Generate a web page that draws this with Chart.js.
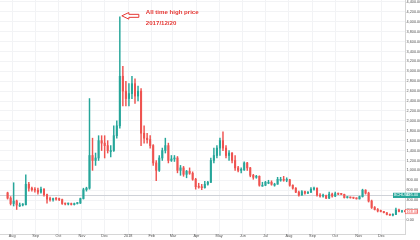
<!DOCTYPE html>
<html>
<head>
<meta charset="utf-8">
<script src="https://cdn.jsdelivr.net/npm/chart.js@4/dist/chart.umd.min.js"></script>
<style>
html, body { margin: 0; padding: 0; background: #fff; }
#wrap { width: 420px; height: 240px; }
</style>
</head>
<body>
<div id="wrap"><canvas id="myChart"></canvas></div>
<script>
// BCH/USD, 4-day candles; day 0 = 2017-08-01
const firstCandleDay = -8;
const candleDays = 4;

const opens = [545, 440, 330, 380, 300, 300, 305, 720, 640, 610, 600, 560, 620, 510, 420, 410, 430, 420, 410, 330,
  320, 330, 310, 330, 340, 430, 610, 640, 1300, 1200, 1250, 1600, 1550, 1500, 1400, 1400, 1700, 1900, 2900, 2600,
  2450, 2550, 2750, 2500, 2600, 1750, 1650, 1620, 1500, 1150, 1000, 1250, 1400, 1500, 1200, 1230, 1250, 1000, 1050, 920,
  980, 940, 820, 670, 660, 650, 720, 760, 1200, 1300, 1450, 1600, 1450, 1300, 1350, 1200, 1050, 1000, 1010, 1150,
  1050, 900, 860, 880, 700, 700, 760, 760, 720, 720, 820, 820, 800, 810, 700, 640, 560, 500, 570, 540,
  560, 620, 640, 500, 480, 490, 440, 520, 480, 530, 520, 515, 450, 455, 445, 440, 425, 470, 600, 540,
  380, 250, 210, 180, 170, 145, 110, 95, 110, 200, 170, 172];
const highs = [560, 470, 750, 400, 340, 330, 910, 760, 660, 650, 640, 660, 630, 520, 460, 440, 450, 440, 420, 340,
  340, 340, 340, 350, 440, 640, 660, 2450, 1650, 1350, 1700, 1700, 1700, 1600, 1500, 1900, 2000, 4100, 3100, 2800,
  2750, 2900, 2850, 2700, 2650, 1900, 1750, 1700, 1520, 1200, 1300, 1450, 1650, 1550, 1300, 1300, 1280, 1100, 1080, 1000,
  1050, 970, 840, 740, 720, 780, 780, 1250, 1450, 1500, 1650, 1780, 1500, 1400, 1360, 1300, 1080, 1050, 1170, 1160,
  1060, 920, 900, 890, 760, 780, 800, 790, 740, 860, 860, 880, 850, 820, 710, 650, 580, 590, 580, 570,
  650, 660, 645, 530, 520, 500, 560, 540, 560, 540, 535, 520, 470, 460, 450, 445, 480, 620, 610, 560,
  400, 270, 230, 200, 175, 150, 115, 120, 240, 220, 180, 178];
const lows = [420, 300, 280, 210, 270, 280, 300, 580, 580, 560, 520, 540, 480, 340, 380, 380, 400, 390, 310, 300,
  300, 300, 300, 320, 330, 420, 580, 620, 1000, 1100, 1200, 1400, 1250, 1350, 1270, 1380, 1650, 1850, 2300, 2300,
  2300, 2450, 2350, 2400, 1500, 1550, 1550, 1450, 1100, 790, 980, 1200, 1350, 1150, 1180, 1180, 950, 900, 880, 850,
  920, 800, 620, 640, 610, 640, 700, 750, 1150, 1250, 1300, 1400, 1250, 1200, 1150, 1000, 970, 950, 1000, 1000,
  870, 820, 840, 680, 680, 690, 730, 700, 680, 720, 780, 780, 770, 680, 620, 550, 480, 500, 520, 530,
  550, 600, 480, 460, 460, 430, 430, 460, 470, 510, 510, 440, 440, 440, 430, 420, 420, 460, 520, 360,
  230, 200, 160, 160, 140, 100, 90, 78, 105, 160, 150, 160];
const closes = [440, 330, 380, 300, 300, 305, 720, 640, 610, 600, 560, 620, 510, 420, 410, 430, 420, 410, 330, 320,
  330, 310, 330, 340, 430, 610, 640, 1300, 1200, 1250, 1600, 1550, 1500, 1400, 1400, 1700, 1900, 2900, 2600, 2450,
  2550, 2750, 2500, 2600, 1750, 1650, 1620, 1500, 1150, 1000, 1250, 1400, 1500, 1200, 1230, 1250, 1000, 1050, 920, 980,
  940, 820, 670, 660, 650, 720, 760, 1200, 1300, 1450, 1600, 1450, 1300, 1350, 1200, 1050, 1000, 1010, 1150, 1050,
  900, 860, 880, 700, 700, 760, 760, 720, 720, 820, 820, 800, 810, 700, 640, 560, 500, 570, 540, 560,
  620, 640, 500, 480, 490, 440, 520, 480, 530, 520, 515, 450, 455, 445, 440, 425, 470, 600, 540, 380,
  250, 210, 180, 170, 145, 110, 95, 110, 200, 170, 172, 168];

const monthDays = [0, 31, 61, 92, 122, 153, 184, 212, 243, 273, 304, 334, 365, 396, 426, 457, 487];
const monthLabels = ['Aug', 'Sep', 'Oct', 'Nov', 'Dec', '2018', 'Feb', 'Mar', 'Apr', 'May', 'Jun', 'Jul', 'Aug', 'Sep', 'Oct', 'Nov', 'Dec'];
const priceTicks = [0, 200, 400, 600, 800, 1000, 1200, 1400, 1600, 1800, 2000, 2200, 2400, 2600, 2800, 3000,
  3200, 3400, 3600, 3800, 4000, 4200, 4400];

const refLevel = 495;
const athLines = ['All time high price', '2017/12/20'];

const upColor = '#26a69a';
const downColor = '#ef5350';

function fmt(v) {
    return v.toLocaleString('en-US', {minimumFractionDigits: 2, maximumFractionDigits: 2});
}

const dayOf = i => firstCandleDay + i * candleDays + 2;
const colors = closes.map((c, i) => c >= opens[i] ? upColor : downColor);

// no extra room for tick labels, keep the plot at the canvas edges
function noPadding(s) {
    s.paddingLeft = 0;
    s.paddingRight = 0;
    s.paddingTop = 0;
    s.paddingBottom = 0;
}

const overlay = {
    id: 'overlay',
    beforeDatasetsDraw(chart) {
        const {ctx, chartArea, scales: {y}} = chart;
        const ry = Math.round(y.getPixelForValue(refLevel)) + 0.5;
        ctx.save();
        ctx.strokeStyle = '#cfd2d8';
        ctx.lineWidth = 1;
        ctx.beginPath();
        ctx.moveTo(chartArea.left, ry);
        ctx.lineTo(chartArea.right, ry);
        ctx.stroke();
        ctx.restore();
    },
    afterDraw(chart) {
        const {ctx, chartArea, scales: {x, y}} = chart;
        ctx.save();
        // all time high arrow + text
        const top = Math.max(...highs);
        const idx = highs.indexOf(top);
        const px = x.getPixelForValue(dayOf(idx)) + 2;
        const py = y.getPixelForValue(top) - 1;
        ctx.strokeStyle = '#e53935';
        ctx.fillStyle = '#fff';
        ctx.lineWidth = 1;
        ctx.beginPath();
        ctx.moveTo(px, py);
        ctx.lineTo(px + 7, py - 3.3);
        ctx.lineTo(px + 7, py - 1.5);
        ctx.lineTo(px + 17, py - 1.5);
        ctx.lineTo(px + 17, py + 1.5);
        ctx.lineTo(px + 7, py + 1.5);
        ctx.lineTo(px + 7, py + 3.3);
        ctx.closePath();
        ctx.fill();
        ctx.stroke();
        ctx.fillStyle = '#e53935';
        ctx.font = 'bold 6.1px "Liberation Sans", Arial, sans-serif';
        ctx.textBaseline = 'middle';
        ctx.fillText(athLines[0], px + 24, py - 4);
        ctx.fillText(athLines[1], px + 24, py + 7);

        // price tags
        ctx.font = '3.8px "Liberation Sans", Arial, sans-serif';
        ctx.textBaseline = 'middle';
        const ry = y.getPixelForValue(refLevel);
        ctx.fillStyle = upColor;
        ctx.fillRect(chartArea.right - 12, ry - 2.6, 27, 5.2);
        ctx.fillStyle = '#fff';
        ctx.fillText('BCHUSD', chartArea.right - 11, ry);
        ctx.fillText(fmt(refLevel), chartArea.right + 1.5, ry);

        const last = closes[closes.length - 1];
        const ly = y.getPixelForValue(last);
        ctx.fillStyle = '#fff';
        ctx.strokeStyle = downColor;
        ctx.lineWidth = 0.6;
        ctx.fillRect(chartArea.right + 0.5, ly - 2.2, 12, 4.4);
        ctx.strokeRect(chartArea.right + 0.5, ly - 2.2, 12, 4.4);
        ctx.fillStyle = downColor;
        ctx.fillText(fmt(last), chartArea.right + 1.5, ly);
        ctx.restore();
    }
};

function chart(idChart) {
    const data = {
        datasets: [
            {
                label: 'wick',
                data: lows.map((l, i) => ({x: dayOf(i), y: [l, highs[i]]})),
                backgroundColor: colors,
                barThickness: 0.8,
                grouped: false,
                minBarLength: 1,
            },
            {
                label: 'body',
                data: opens.map((o, i) => ({x: dayOf(i), y: [o, closes[i]]})),
                backgroundColor: colors,
                barThickness: 1.4,
                grouped: false,
                minBarLength: 1,
            },
        ],
    };

    const options = {
        responsive: true,
        maintainAspectRatio: false,
        animation: false,
        layout: {padding: 0},
        plugins: {
            legend: {display: false},
            tooltip: {enabled: false},
        },
        scales: {
            x: {
                type: 'linear',
                offset: false,
                min: -16,
                max: 518,
                afterBuildTicks: s => { s.ticks = monthDays.map(v => ({value: v})); },
                afterFit: s => { s.height = 6; noPadding(s); },
                ticks: {
                    padding: 0,
                    maxRotation: 0,
                    autoSkip: false,
                    color: '#555',
                    font: {size: 3.8, family: 'Liberation Sans'},
                    callback: v => monthLabels[monthDays.indexOf(v)],
                },
                grid: {color: '#f2f3f5', drawTicks: false, offset: false},
                border: {color: '#d6d6d6'},
            },
            y: {
                position: 'right',
                min: -285,
                max: 4440,
                afterBuildTicks: s => { s.ticks = priceTicks.map(v => ({value: v})); },
                afterFit: s => { s.width = 15; noPadding(s); },
                ticks: {
                    autoSkip: false,
                    padding: 1.5,
                    color: '#555',
                    font: {size: 3.8, family: 'Liberation Sans'},
                    callback: v => fmt(v),
                },
                grid: {color: '#f2f3f5', drawTicks: false},
                border: {color: '#d6d6d6'},
            },
        },
    };

    const element = document.getElementById(idChart);
    return new Chart(element, {type: 'bar', data, options, plugins: [overlay]});
}

window.addEventListener('load', () => {
    chart('myChart');
});
</script>
</body>
</html>
